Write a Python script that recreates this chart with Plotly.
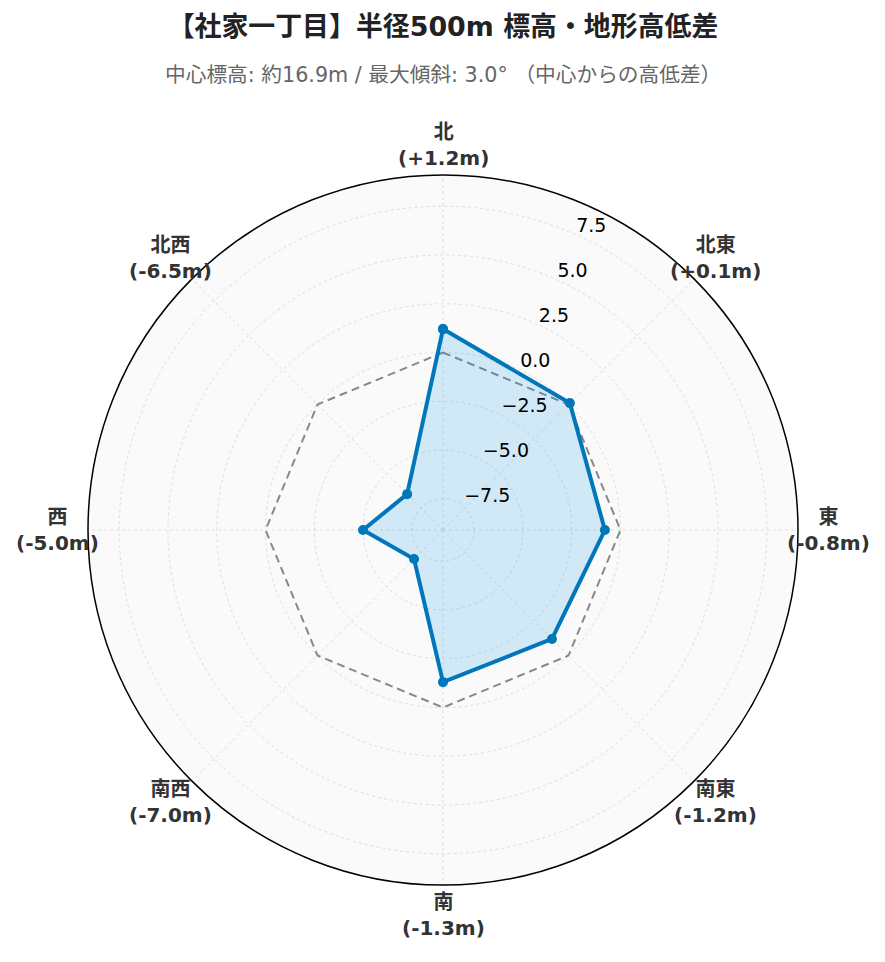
import math
import plotly.graph_objects as go

directions = ["北", "北東", "東", "南東", "南", "南西", "西", "北西"]
angles_deg = [0, 45, 90, 135, 180, 225, 270, 315]
elev_diff = [1.2, 0.1, -0.8, -1.2, -1.3, -7.0, -5.0, -6.5]
reference_zero = [0, 0, 0, 0, 0, 0, 0, 0]
radial_ticks = [-7.5, -5.0, -2.5, 0.0, 2.5, 5.0, 7.5]

title_text = "【社家一丁目】半径500m 標高・地形高低差"
subtitle_text = "中心標高: 約16.9m / 最大傾斜: 3.0° （中心からの高低差）"

dir_labels = [f"<b>{d}<br>({v:+.1f}m)</b>" for d, v in zip(directions, elev_diff)]

FONT = "DejaVu Sans, Noto Sans CJK JP, sans-serif"

theta_closed = angles_deg + [angles_deg[0]]

fig = go.Figure()
fig.add_trace(go.Scatterpolar(
    r=reference_zero + [reference_zero[0]],
    theta=theta_closed,
    mode="lines",
    line=dict(color="#888888", width=2, dash="8px,5px"),
    hoverinfo="skip",
    showlegend=False,
))
fig.add_trace(go.Scatterpolar(
    r=elev_diff + [elev_diff[0]],
    theta=theta_closed,
    mode="lines+markers",
    fill="toself",
    fillcolor="rgba(0,150,235,0.16)",
    line=dict(color="#0077BB", width=4),
    marker=dict(size=10, color="#0077BB"),
    showlegend=False,
))

# direction labels placed just outside the polar circle, centered
label_r = 0.5 * 385 / 355
annotations = []
for a, txt in zip(angles_deg, dir_labels):
    annotations.append(dict(
        text=txt, xref="paper", yref="paper",
        x=0.5 + label_r * math.sin(math.radians(a)),
        y=0.5 + label_r * math.cos(math.radians(a)),
        xanchor="center", yanchor="middle", align="center",
        showarrow=False,
        font=dict(size=20, color="#333333", family=FONT),
    ))
annotations.append(dict(
    text=subtitle_text,
    xref="paper", yref="paper",
    x=0.5, y=(877 - 67) / 710,
    xanchor="center", yanchor="middle",
    showarrow=False,
    font=dict(size=20.7, color="#666666", family=FONT),
))

fig.update_layout(
    width=885, height=962,
    paper_bgcolor="white",
    font=dict(family=FONT),
    margin=dict(l=80, r=95, t=167, b=85),
    title=dict(
        text=f"<b>{title_text}</b>",
        x=(443 - 8) / 885, xanchor="center",
        y=1 - 19 / 962, yanchor="middle",
        font=dict(size=26.9, color="#222222", family=FONT),
    ),
    annotations=annotations,
    polar=dict(
        bgcolor="#fafafa",
        angularaxis=dict(
            rotation=90,
            direction="clockwise",
            tickmode="array",
            tickvals=angles_deg,
            showticklabels=False,
            showline=True,
            linecolor="black",
            linewidth=1.5,
            gridcolor="#dddddd",
            griddash="dot",
            ticks="",
        ),
        radialaxis=dict(
            range=[-9.1, 9.1],
            tickmode="array",
            tickvals=radial_ticks,
            ticktext=[f"{v:.1f}".replace("-", "−") + "<br>\u00a0" for v in radial_ticks],
            angle=67.5,
            tickangle=67.5,
            tickfont=dict(size=19, color="black", family=FONT),
            showline=False,
            gridcolor="#dddddd",
            griddash="dot",
            ticks="",
        ),
    ),
)

fig.write_html("out.html")
